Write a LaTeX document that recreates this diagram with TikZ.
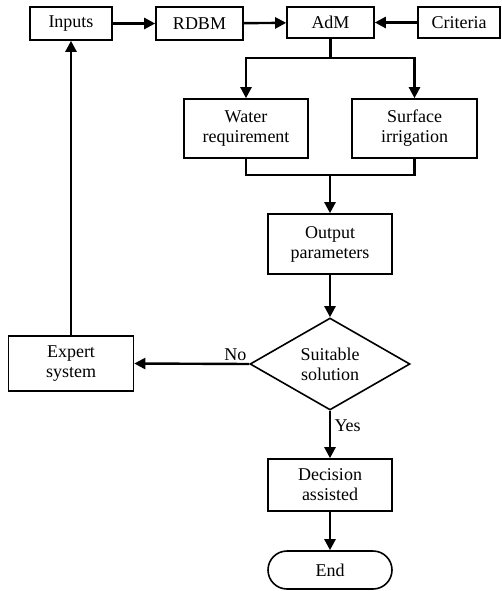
\documentclass[tikz,border=0pt]{standalone}
\usepackage{fontspec}
\setmainfont{Liberation Serif}
\usetikzlibrary{shapes.geometric,shapes.misc,arrows.meta}
\begin{document}
\begin{tikzpicture}[x=1pt,y=-1pt,
  box/.style={draw,line width=1.6pt,inner sep=0pt,align=center,font=\fontsize{18}{20}\selectfont},
  conn/.style={line width=2.4pt},
  arr/.style={conn,-{Triangle[length=11pt,width=11pt]}},
  lbl/.style={font=\fontsize{18}{20}\selectfont}]
\useasboundingbox (0,0) rectangle (501,591);
\node[box,minimum width=82pt,minimum height=33pt] (inputs) at (71,23.5) {Inputs};
\node[box,minimum width=87pt,minimum height=33pt] (rdbm) at (199.5,23.5) {RDBM};
\node[box,minimum width=87pt,minimum height=31pt] (adm) at (330.5,22.5) {AdM};
\node[box,minimum width=82pt,minimum height=31pt] (crit) at (459,22.5) {Criteria};
\node[box,minimum width=124pt,minimum height=59pt] (water) at (246,128.5) {Water\\requirement};
\node[box,minimum width=125pt,minimum height=59pt] (surf) at (414.5,128.5) {Surface\\irrigation};
\node[box,minimum width=124pt,minimum height=60pt] (out) at (330,244) {Output\\parameters};
\node[box,diamond,aspect=1.74,minimum width=160pt,minimum height=92pt] (suit) at (330,364) {Suitable\\solution};
\node[box,minimum width=125pt,minimum height=55pt] (expert) at (71,363.5) {Expert\\system};
\node[box,minimum width=124pt,minimum height=52pt] (dec) at (330,485) {Decision\\assisted};
\node[box,rounded rectangle,minimum width=124pt,minimum height=38pt] (end) at (330,570) {End};
\coordinate (split) at (330.5,58);
\coordinate (join) at (330,175);
\draw[arr] (inputs) -- (rdbm);
\draw[arr] (rdbm) -- (adm);
\draw[arr] (crit) -- (adm);
\draw[conn] (adm.south) -- (split);
\draw[arr] (split) -| (water.north);
\draw[arr] (split) -| (surf.north);
\draw[conn] (water.south) |- (join) -| (surf.south);
\draw[arr] (join) -- (out.north);
\draw[arr] (out) -- (suit.north);
\draw[arr] (suit.west) -- node[lbl,above,pos=0.12,yshift=-1pt] {No} (expert.east);
\draw[arr] (expert) -- (inputs);
\draw[arr] (suit.south) -- node[lbl,right,pos=0.32] {Yes} (dec.north);
\draw[arr] (dec) -- (end);
\end{tikzpicture}
\end{document}
